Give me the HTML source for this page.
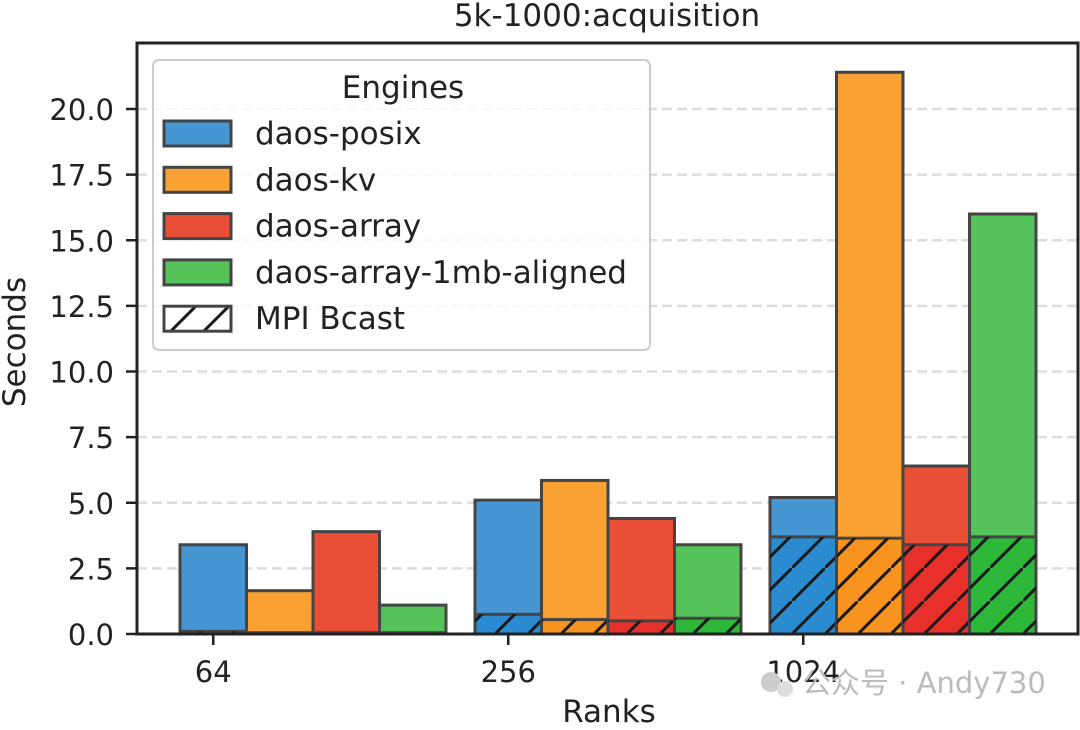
<!DOCTYPE html>
<html><head><meta charset="utf-8"><style>
body{margin:0;background:#fff}
svg text{font-family:"DejaVu Sans","Noto Sans CJK SC",sans-serif}
</style></head><body>
<svg id="chart" width="1080" height="725" xmlns="http://www.w3.org/2000/svg">
<defs>
<pattern id="hatch" patternUnits="userSpaceOnUse" width="33" height="33" patternTransform="translate(0,634)">
<path d="M-5,38 L38,-5 M-38,5 L5,-38 M28,71 L71,28" stroke="#1a1a1a" stroke-width="3"/>
</pattern>
</defs>
<text x="607" y="26" font-size="31" text-anchor="middle" fill="#222">5k-1000:acquisition</text>
<g id="grid"></g>
<g id="bars"></g>
<rect x="137" y="43" width="941" height="591" fill="none" stroke="#222" stroke-width="3"/>
<g id="yticks"></g>
<g id="xticks"></g>
<text transform="translate(25,342) rotate(-90)" font-size="31" text-anchor="middle" fill="#222">Seconds</text>
<text x="609" y="722" font-size="31" text-anchor="middle" fill="#222">Ranks</text>
<g>
<rect x="153" y="60" width="497" height="290" rx="6" fill="#fff" fill-opacity="0.8" stroke="#ccc" stroke-width="2"/>
<text x="403" y="98" font-size="31" text-anchor="middle" fill="#222">Engines</text>
<g id="legend-items"></g>
</g>
<g>
<circle cx="771" cy="682" r="10" fill="#ccc"/><circle cx="785" cy="689" r="8" fill="#ddd"/>
<text x="802" y="693" font-size="29" fill="#bbb">公众号 · Andy730</text>
</g>
</svg>
<script>
const categories=["64","256","1024"];
const engines=["daos-posix","daos-kv","daos-array","daos-array-1mb-aligned"];
const totals=[[3.4,5.1,5.2],[1.65,5.85,21.4],[3.9,4.4,6.4],[1.1,3.4,16.0]];
const bcast=[[0.1,0.75,3.7],[0.05,0.55,3.65],[0.05,0.5,3.4],[0.05,0.6,3.7]];
const yTicks=[0,2.5,5,7.5,10,12.5,15,17.5,20];
const colors=["#4796d4","#f9a132","#e94e37","#56c25a"];
const dark=["#2a8bd0","#f7931e","#e8302a","#2db83a"];
const NS="http://www.w3.org/2000/svg";
const y0=634,k=26.25,bw=66.5,gx0=180,gstep=295;
const Y=v=>y0-v*k;
const X=(g,e)=>gx0+g*gstep+e*bw;
function mk(t,a,p){const el=document.createElementNS(NS,t);for(const n in a)el.setAttribute(n,a[n]);p.appendChild(el);return el;}
const grid=document.getElementById('grid'),yt=document.getElementById('yticks'),xt=document.getElementById('xticks'),bars=document.getElementById('bars');
yTicks.forEach(v=>{
 if(v>0){const l=mk('line',{x1:137,x2:1078,y1:Y(v),y2:Y(v),stroke:'#ddd','stroke-width':2.5,'stroke-dasharray':'10,5'},grid);
 
 }
 const tk=mk('line',{x1:126,x2:137,y1:Y(v),y2:Y(v),stroke:'#222','stroke-width':2.5},yt);
 
 
 const t=mk('text',{x:114,y:Y(v)+11,'font-size':29,'text-anchor':'end',fill:'#222'},yt);t.textContent=v.toFixed(1);
 
 
});
categories.forEach((c,g)=>{
 const cx=X(g,0)+bw/2;
 const tk=mk('line',{x1:cx,x2:cx,y1:634,y2:645,stroke:'#222','stroke-width':2.5},xt);
 
 
 const t=mk('text',{x:cx,y:682,'font-size':29,'text-anchor':'middle',fill:'#222'},xt);t.textContent=c;
 
 
 engines.forEach((e,i)=>{
  const x=X(g,i);
  const r=mk('rect',{x:x,y:Y(totals[i][g]),width:bw,height:totals[i][g]*k,fill:colors[i],stroke:'#444','stroke-width':3},bars);
  
  
  const h=bcast[i][g]*k;
  const r2=mk('rect',{x:x,y:Y(bcast[i][g]),width:bw,height:h,fill:dark[i],stroke:'#444','stroke-width':3},bars);
  
  
  const r3=mk('rect',{x:x,y:Y(bcast[i][g]),width:bw,height:h,fill:'url(#hatch)'},bars);
  
  
 });
});
mk('line',{x1:137,x2:1078,y1:634,y2:634,stroke:'#222','stroke-width':3},bars);
const li=document.getElementById('legend-items');
const labels=engines.concat(["MPI Bcast"]);
labels.forEach((l,i)=>{
 const cy=133+i*46.3;
 const r=mk('rect',{x:164,y:cy-12,width:67,height:25,fill:i<4?colors[i]:'url(#hatch)',stroke:'#444','stroke-width':3},li);
 
 
 const t=mk('text',{x:255,y:cy+11,'font-size':31,fill:'#222'},li);t.textContent=l;
 
 
});
</script>
</body></html>
